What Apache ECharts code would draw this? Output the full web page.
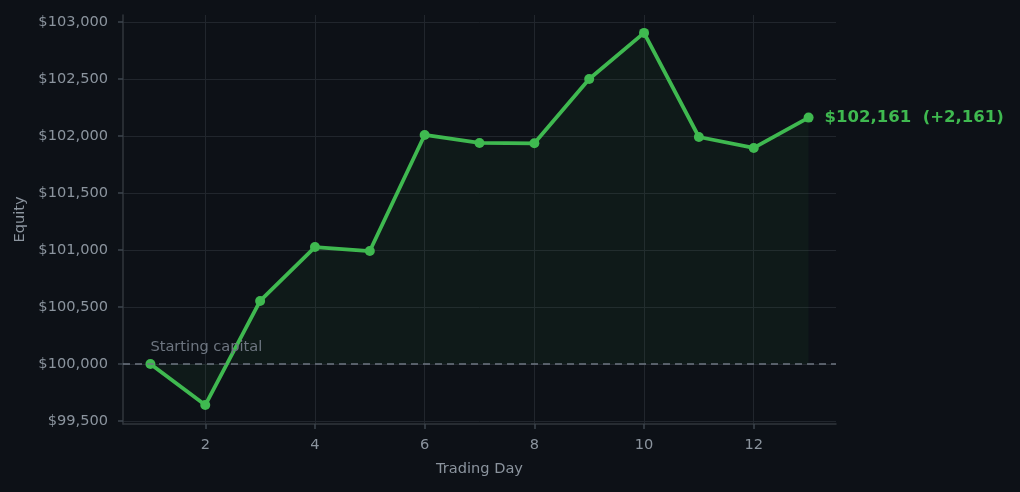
<!DOCTYPE html>
<html>
<head>
<meta charset="utf-8">
<script src="https://cdn.jsdelivr.net/npm/echarts@6/dist/echarts.min.js"></script>
<style>
  html, body { margin: 0; padding: 0; background: #0d1117; }
  #chart { width: 1020px; height: 492px; }
</style>
</head>
<body>
<div id="chart"></div>
<script>
// equity curve data
var days = [1, 2, 3, 4, 5, 6, 7, 8, 9, 10, 11, 12, 13];
var equity = [100000, 99640, 100553, 101026, 100991, 102009, 101939, 101936, 102500, 102904, 101991, 101895, 102161];
var xTicks = [2, 4, 6, 8, 10, 12];
var yTicks = [99500, 100000, 100500, 101000, 101500, 102000, 102500, 103000];
var startCapital = 100000;

var textColor = '#8b949e';
var green = '#3fb950';

function money(v) {
    return '$' + Math.round(v).toLocaleString('en-US');
}

var points = [];
for (var i = 0; i < days.length; i++) {
    points.push([days[i], equity[i]]);
}
var last = equity[equity.length - 1];
var diff = last - startCapital;

var myChart = echarts.init(document.getElementById('chart'));
var option = {
    backgroundColor: '#0d1117',
    animation: false,
    textStyle: { fontFamily: 'DejaVu Sans' },
    grid: { left: 123, right: 184, top: 15, bottom: 68 },
    xAxis: {
        type: 'value',
        min: 0.5,
        max: 13.5,
        name: 'Trading Day',
        nameLocation: 'middle',
        nameGap: 38,
        nameTextStyle: { color: textColor, fontSize: 14.6 },
        axisLine: { show: true, lineStyle: { color: '#30363d', width: 1.5 } },
        axisTick: { show: true, length: 5, lineStyle: { color: '#3d444d', width: 1.5 }, customValues: xTicks },
        axisLabel: { color: textColor, fontSize: 14.6, margin: 14, customValues: xTicks },
        splitLine: { show: true, lineStyle: { color: '#21262d', width: 1 } }
    },
    yAxis: {
        type: 'value',
        min: 99474,
        max: 103061,
        name: 'Equity',
        nameLocation: 'middle',
        nameGap: 93,
        nameTextStyle: { color: textColor, fontSize: 14.6 },
        axisLine: { show: true, lineStyle: { color: '#30363d', width: 1.5 } },
        axisTick: { show: true, length: 5, lineStyle: { color: '#3d444d', width: 1.5 }, customValues: yTicks },
        axisLabel: { color: textColor, fontSize: 14.6, margin: 15, customValues: yTicks, formatter: money },
        splitLine: { show: true, lineStyle: { color: '#21262d', width: 1 } }
    },
    series: [
        {
            type: 'line',
            data: points,
            symbol: 'circle',
            symbolSize: 10,
            itemStyle: { color: green },
            lineStyle: { color: green, width: 3.8 },
            areaStyle: { origin: startCapital, color: 'rgba(63,185,80,0.08)' },
            label: { show: false },
            endLabel: {
                show: true,
                formatter: function () {
                    return money(last) + '  (+' + diff.toLocaleString('en-US') + ')';
                },
                color: green,
                fontSize: 16.5,
                fontWeight: 'bold',
                distance: 16
            },
            markLine: {
                symbol: 'none',
                silent: true,
                label: { show: false },
                lineStyle: { color: '#6e7681', type: [7, 5], width: 1.5 },
                data: [{ yAxis: startCapital }]
            },
            markPoint: {
                symbol: 'circle',
                symbolSize: 0,
                silent: true,
                label: {
                    show: true,
                    formatter: 'Starting capital',
                    color: '#6e7681',
                    fontSize: 14.6,
                    position: 'right',
                    distance: 0,
                    offset: [0, -17]
                },
                data: [{ coord: [days[0], startCapital] }]
            }
        }
    ]
};
myChart.setOption(option);
</script>
</body>
</html>
